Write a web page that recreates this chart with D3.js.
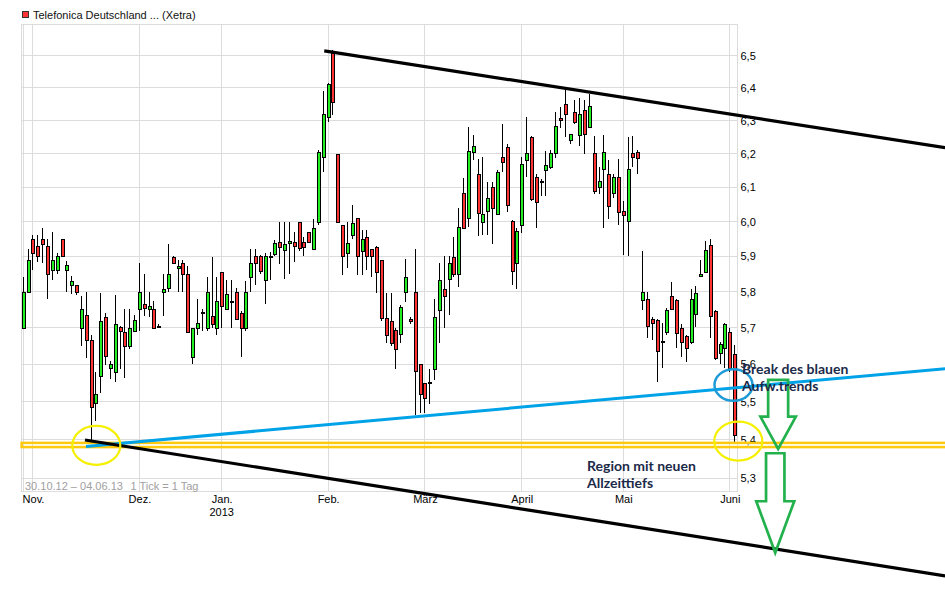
<!DOCTYPE html>
<html><head><meta charset="utf-8">
<script src="https://cdn.jsdelivr.net/npm/d3@7"></script>
<style>
html,body{margin:0;padding:0;background:#fff}
svg{display:block}
</style></head>
<body>
<svg id="chart" width="945" height="596"></svg>
<script>
// ---------------- data ----------------
const title = "Telefonica Deutschland ... (Xetra)";
const dates = [
"30.10.12","31.10.12",
"01.11.12","02.11.12","05.11.12","06.11.12","07.11.12","08.11.12","09.11.12","12.11.12","13.11.12","14.11.12","15.11.12","16.11.12","19.11.12","20.11.12","21.11.12","22.11.12","23.11.12","26.11.12","27.11.12","28.11.12","29.11.12","30.11.12",
"03.12.12","04.12.12","05.12.12","06.12.12","07.12.12","10.12.12","11.12.12","12.12.12","13.12.12","14.12.12","17.12.12","18.12.12","19.12.12","20.12.12","21.12.12","27.12.12","28.12.12",
"02.01.13","03.01.13","04.01.13","07.01.13","08.01.13","09.01.13","10.01.13","11.01.13","14.01.13","15.01.13","16.01.13","17.01.13","18.01.13","21.01.13","22.01.13","23.01.13","24.01.13","25.01.13","28.01.13","29.01.13","30.01.13","31.01.13",
"01.02.13","04.02.13","05.02.13","06.02.13","07.02.13","08.02.13","11.02.13","12.02.13","13.02.13","14.02.13","15.02.13","18.02.13","19.02.13","20.02.13","21.02.13","22.02.13","25.02.13","26.02.13","27.02.13","28.02.13",
"01.03.13","04.03.13","05.03.13","06.03.13","07.03.13","08.03.13","11.03.13","12.03.13","13.03.13","14.03.13","15.03.13","18.03.13","19.03.13","20.03.13","21.03.13","22.03.13","25.03.13","26.03.13","27.03.13","28.03.13",
"02.04.13","03.04.13","04.04.13","05.04.13","08.04.13","09.04.13","10.04.13","11.04.13","12.04.13","15.04.13","16.04.13","17.04.13","18.04.13","19.04.13","22.04.13","23.04.13","24.04.13","25.04.13","26.04.13","29.04.13","30.04.13",
"02.05.13","03.05.13","06.05.13","07.05.13","08.05.13","09.05.13","10.05.13","13.05.13","14.05.13","15.05.13","16.05.13","17.05.13","20.05.13","21.05.13","22.05.13","23.05.13","24.05.13","27.05.13","28.05.13","29.05.13","30.05.13","31.05.13",
"03.06.13","04.06.13"];

const open = [5.70,5.80,5.95,5.93,5.95,5.93,5.86,5.86,5.95,5.86,5.82,5.818,5.70,5.735,5.666,5.497,5.569,5.73,5.589,5.578,5.702,5.688,5.65,5.691,
5.753,5.765,5.752,5.752,5.706,5.799,5.811,5.897,5.866,5.88,5.85,5.619,5.699,5.743,5.699,5.732,5.699,
5.855,5.752,5.773,5.799,5.74,5.699,5.84,5.90,5.90,5.834,5.90,5.907,5.941,5.918,5.938,5.941,6.00,5.941,5.97,5.92,6.00,6.189,
6.31,6.51,6.20,5.989,5.909,5.961,6.009,5.914,5.956,5.92,5.928,5.889,5.728,5.718,5.695,5.682,5.798,5.724,5.798,5.60,
5.549,5.55,5.588,5.75,5.808,5.836,5.897,5.849,6.082,6.01,6.204,6.14,6.00,6.03,6.10,6.021,6.189,6.219,6.001,5.88,
5.989,6.18,6.25,6.132,6.12,6.15,6.16,6.201,6.307,6.351,6.242,6.326,6.256,6.332,6.28,6.201,6.10,6.153,6.14,6.082,6.13,
6.03,6.002,6.202,6.204,5.778,5.781,5.723,5.721,5.662,5.687,5.789,5.776,5.698,5.676,5.66,5.738,5.843,5.855,5.932,5.745,5.63,5.645,5.687,
5.628];
const high = [5.84,5.92,5.96,5.96,5.98,5.95,5.97,5.91,5.95,5.887,5.843,5.82,5.787,5.80,5.68,5.58,5.796,5.74,5.61,5.792,5.705,5.753,5.753,5.735,
5.881,5.85,5.80,5.775,5.71,5.85,5.935,5.90,5.89,5.89,5.872,5.70,5.781,5.753,5.84,5.897,5.84,
5.856,5.834,5.834,5.811,5.745,5.829,5.92,5.92,5.905,5.91,5.913,5.947,6.00,6.00,6.00,5.971,6.00,5.955,5.971,6.008,6.21,6.392,
6.415,6.52,6.20,5.99,5.998,6.048,6.01,5.975,5.975,5.92,5.93,5.89,5.796,5.796,5.70,5.764,5.892,5.73,5.92,5.60,
5.55,5.587,5.78,5.88,5.90,5.902,5.955,6.04,6.127,6.281,6.256,6.184,6.19,6.115,6.115,6.15,6.289,6.229,6.005,5.98,
6.189,6.312,6.254,6.14,6.125,6.208,6.21,6.326,6.342,6.396,6.26,6.363,6.368,6.363,6.38,6.252,6.16,6.257,6.18,6.14,6.183,
6.06,6.25,6.253,6.212,5.915,5.798,5.73,5.725,5.712,5.755,5.828,5.78,5.71,5.68,5.808,5.817,5.89,5.943,5.949,5.75,5.66,5.712,5.698,
5.653];
const low = [5.70,5.80,5.86,5.885,5.88,5.78,5.834,5.85,5.90,5.80,5.794,5.79,5.651,5.618,5.40,5.45,5.522,5.598,5.56,5.553,5.588,5.562,5.642,5.69,
5.69,5.733,5.73,5.699,5.70,5.733,5.799,5.88,5.799,5.80,5.688,5.60,5.68,5.69,5.69,5.699,5.68,
5.699,5.75,5.699,5.72,5.62,5.69,5.799,5.818,5.85,5.767,5.834,5.90,5.879,5.836,5.85,5.885,5.916,5.90,5.94,5.918,5.99,6.144,
6.297,6.317,6.00,5.847,5.868,5.95,5.847,5.847,5.86,5.84,5.797,5.719,5.658,5.65,5.588,5.658,5.772,5.71,5.465,5.471,
5.471,5.495,5.557,5.657,5.70,5.735,5.84,5.814,5.98,5.983,6.18,5.957,5.96,5.96,5.936,6.02,6.145,6.028,5.82,5.809,
5.967,6.132,6.06,5.981,6.075,6.076,6.155,6.186,6.277,6.25,6.23,6.29,6.224,6.20,6.28,6.079,6.079,5.98,6.006,6.07,5.99,
5.905,5.90,6.16,6.139,5.75,5.672,5.667,5.552,5.589,5.68,5.75,5.645,5.62,5.607,5.655,5.703,5.84,5.855,5.672,5.611,5.60,5.589,5.58,
5.39];
const close = [5.80,5.89,5.91,5.90,5.935,5.85,5.89,5.90,5.90,5.875,5.83,5.80,5.752,5.666,5.485,5.52,5.718,5.622,5.60,5.71,5.691,5.65,5.699,5.721,
5.799,5.755,5.76,5.699,5.705,5.808,5.85,5.88,5.873,5.85,5.688,5.699,5.713,5.742,5.799,5.71,5.774,
5.76,5.794,5.772,5.724,5.699,5.799,5.88,5.88,5.859,5.90,5.899,5.938,5.928,5.934,5.945,5.93,5.924,5.927,5.941,5.98,6.206,6.319,
6.412,6.356,6.00,5.90,5.939,5.995,5.902,5.951,5.90,5.90,5.855,5.728,5.679,5.658,5.641,5.756,5.842,5.718,5.581,5.521,
5.509,5.552,5.729,5.833,5.787,5.88,5.849,5.985,5.981,6.209,6.222,6.024,6.022,6.07,6.04,6.144,6.174,6.049,5.857,5.973,
6.168,6.201,6.067,6.057,6.119,6.166,6.201,6.285,6.301,6.319,6.26,6.295,6.319,6.26,6.344,6.09,6.12,6.204,6.045,6.13,6.027,
6.02,6.153,6.191,6.186,5.798,5.705,5.712,5.635,5.664,5.749,5.752,5.685,5.66,5.645,5.781,5.797,5.851,5.919,5.731,5.616,5.655,5.709,5.589,
5.412];

const yTicks = [5.3,5.4,5.5,5.6,5.7,5.8,5.9,6.0,6.1,6.2,6.3,6.4,6.5];
const monthStartIdx = [2,24,41,63,83,103,124,146];
const monthLabels = ["Nov.","Dez.","Jan.","Feb.","März","April","Mai","Juni"];
const yearLabel = {idx:41, text:"2013"};
const footerRange = "30.10.12 \u2013 04.06.13";
const footerTick = "1 Tick = 1 Tag";

// annotations in data coordinates [tradingDayIndex, price]
const upperTrend = [[62.2,6.516],[190.5,6.218]];
const lowerTrend = [[12.75,5.399],[190.5,5.056]];
const blueTrend  = [[12.95,5.382],[190.5,5.588]];
const supportLevel = 5.386;
const yellowCircles = [[15.09,5.3848],[147.76,5.3962]];
const blueCircle = [146.77,5.5443];
const arrows = [ {idx:156.0, top:5.558, tip:5.3757}, {idx:155.4, top:5.3645, tip:5.1125} ];
const noteBreak = ["Break des blauen","Aufw.trends"];
const noteRegion = ["Region mit neuen","Allzeittiefs"];

// ---------------- chart ----------------
const svg = d3.select("#chart");
const L = 21.5, R = 737.5, T = 24.5, B = 491.5;
const x = d3.scaleLinear().domain([0, dates.length-1]).range([23.3, 734.6]);
const y = d3.scaleLog().domain([5.265, 6.601]).range([492, 24]);
const px = v => Math.floor(v) + 0.5;

const font = "'Liberation Sans', Arial, sans-serif";

// title
svg.append("rect").attr("x",22.5).attr("y",11.5).attr("width",6).attr("height",6)
  .attr("fill","#ff3333").attr("stroke","#333").attr("stroke-width",1);
svg.append("text").attr("x",33).attr("y",19).attr("font-family",font).attr("font-size",11)
  .attr("fill","#111").text(title);

// grid
const grid = svg.append("g").attr("stroke","#dcdcdc").attr("stroke-width",1).attr("shape-rendering","crispEdges");
grid.selectAll("line.h").data(yTicks).join("line").attr("class","h")
  .attr("x1",L).attr("x2",R).attr("y1",d=>px(y(d))).attr("y2",d=>px(y(d)));
grid.selectAll("line.v").data([0].concat(monthStartIdx)).join("line").attr("class","v")
  .attr("y1",T).attr("y2",B).attr("x1",d=>px(x(d))).attr("x2",d=>px(x(d)));
grid.append("rect").attr("x",L).attr("y",T).attr("width",R-L).attr("height",B-T).attr("fill","none");

// footer
svg.append("text").attr("x",25).attr("y",490).attr("font-family",font).attr("font-size",11)
  .attr("fill","#a0a0a0").text(footerRange);
svg.append("text").attr("x",130.5).attr("y",490).attr("font-family",font).attr("font-size",11)
  .attr("fill","#a0a0a0").text(footerTick);

// candles
const idx = d3.range(dates.length);
const cg = svg.append("g").attr("shape-rendering","crispEdges");
cg.selectAll("line.w").data(idx).join("line").attr("class","w")
  .attr("x1",i=>px(x(i))).attr("x2",i=>px(x(i)))
  .attr("y1",i=>Math.round(y(high[i]))).attr("y2",i=>Math.round(y(low[i])))
  .attr("stroke","#000").attr("stroke-width",1);
cg.selectAll("rect.b").data(idx).join("rect").attr("class","b")
  .attr("x",i=>px(x(i))-1.5).attr("width",3)
  .attr("y",i=>Math.round(y(Math.max(open[i],close[i])))+0.5)
  .attr("height",i=>Math.max(1, Math.round(y(Math.min(open[i],close[i]))) - Math.round(y(Math.max(open[i],close[i])))))
  .attr("fill",i=>close[i]>=open[i] ? "#22ee22" : "#ff3333")
  .attr("stroke","#000").attr("stroke-width",1);

// axes
const yAxis = d3.axisRight(y).tickValues(yTicks).tickSize(0).tickPadding(3)
  .tickFormat(d=>d3.format(".1f")(d).replace(".",","));
const ya = svg.append("g").attr("transform",`translate(${R},0)`).call(yAxis);
ya.select(".domain").remove();
ya.selectAll("text").attr("font-family",font).attr("font-size",11).attr("fill","#000");

const xAxis = d3.axisBottom(x).tickValues(monthStartIdx).tickSize(0).tickPadding(4)
  .tickFormat((d,i)=>monthLabels[i]);
const xa = svg.append("g").attr("transform",`translate(0,${B})`).call(xAxis);
xa.select(".domain").remove();
xa.selectAll("text").attr("font-family",font).attr("font-size",11).attr("fill","#000");
svg.append("text").attr("x",x(yearLabel.idx)).attr("y",516).attr("text-anchor","middle")
  .attr("font-family",font).attr("font-size",11).attr("fill","#000").text(yearLabel.text);

// ---------------- annotations ----------------
const line = d3.line().x(d=>x(d[0])).y(d=>y(d[1]));
// yellow support band (double line)
const bandH = 4.2;
svg.append("rect").attr("x",x(-0.35)).attr("y",y(supportLevel)-bandH/2)
  .attr("width",x(192)-x(-0.35)).attr("height",bandH)
  .attr("fill","none").attr("stroke","#ffc90e").attr("stroke-width",2.5);
svg.append("path").attr("d",line(blueTrend)).attr("stroke","#00a2e8").attr("stroke-width",3).attr("fill","none");
svg.append("path").attr("d",line(upperTrend)).attr("stroke","#000").attr("stroke-width",3.2).attr("fill","none");
svg.append("path").attr("d",line(lowerTrend)).attr("stroke","#000").attr("stroke-width",3.2).attr("fill","none");

svg.selectAll("ellipse.yc").data(yellowCircles).join("ellipse").attr("class","yc")
  .attr("cx",d=>x(d[0])).attr("cy",d=>y(d[1])).attr("rx",24).attr("ry",19.5)
  .attr("fill","none").attr("stroke","#f5f000").attr("stroke-width",2.2);
svg.append("ellipse").attr("cx",x(blueCircle[0])).attr("cy",y(blueCircle[1])).attr("rx",19).attr("ry",15.8)
  .attr("fill","none").attr("stroke","#1e9ad6").attr("stroke-width",2.5);

// arrows
const arrowGeo = [{sw:10, hw:17.7, hh:32.3},{sw:9.2, hw:19, hh:51.6}];
arrows.forEach((a,k)=>{
  const cx = x(a.idx), t = y(a.top), tip = y(a.tip), g = arrowGeo[k];
  const hy = tip - g.hh;
  const pts = [[cx-g.sw,t],[cx+g.sw,t],[cx+g.sw,hy],[cx+g.hw,hy],[cx,tip],[cx-g.hw,hy],[cx-g.sw,hy]];
  svg.append("path").attr("d","M"+pts.map(p=>p.join(",")).join("L")+"Z")
    .attr("fill","none").attr("stroke","#22b14c").attr("stroke-width",2.7).attr("stroke-linejoin","miter");
});

// notes
const noteFont = "Lato, 'Open Sans', sans-serif";
const nt = svg.append("g").attr("font-family",noteFont).attr("font-weight","bold").attr("font-size",14).attr("fill","#1b2a4a");
noteBreak.forEach((t,k)=>nt.append("text").attr("x",742).attr("y",374+k*16.8).text(t));
noteRegion.forEach((t,k)=>nt.append("text").attr("x",587).attr("y",470.5+k*17.5).text(t));
</script>
</body></html>
